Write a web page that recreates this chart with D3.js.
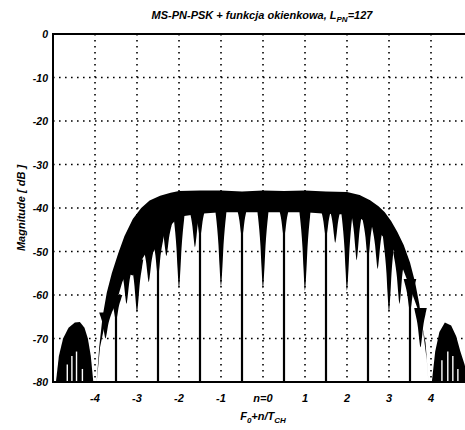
<!DOCTYPE html>
<html>
<head>
    <title>MS-PN-PSK spectrum</title>
    <style>
        body { margin: 0; background: #fff; }
        text { font-family: "Liberation Sans", Arial, sans-serif; font-weight: bold; font-style: italic; fill: #000; }
        .grid line { stroke: #000; stroke-width: 1.6; stroke-dasharray: 1.6,4.4; }
        .frame { stroke: #000; stroke-width: 2; fill: none; }
    </style>
</head>
<body>
    <div id="chart"></div>
    <script src="https://d3js.org/d3.v7.min.js"></script>
    <script>
        // Tick values and labels
        const xTicks = [-4, -3, -2, -1, 0, 1, 2, 3, 4];
        const xTickLabels = ["-4", "-3", "-2", "-1", "n=0", "1", "2", "3", "4"];
        const yTicks = [0, -10, -20, -30, -40, -50, -60, -70, -80];

        // Upper envelope of the spectrum (f in units of 1/T_CH, magnitude in dB)
        const leftLobeF  = [-4.93, -4.86, -4.76, -4.63, -4.48, -4.36, -4.25, -4.17, -4.10, -4.04];
        const leftLobeDb = [-80, -74, -70, -67.5, -66.3, -66.2, -67.5, -70, -74, -80];

        const mainF  = [-3.96, -3.9, -3.82, -3.72, -3.6, -3.45, -3.3, -3.1, -2.9, -2.7, -2.45, -2.2, -2.0, -1.5, -1.0, -0.5, 0, 0.5, 1.0, 1.5, 2.0, 2.3, 2.55, 2.75, 2.9, 3.05, 3.2, 3.35, 3.5, 3.62, 3.72, 3.82, 3.9, 3.94];
        const mainDb = [-80, -72, -65, -59.5, -55, -50.5, -46.5, -42.5, -40, -38.3, -37.2, -36.5, -36.1, -36, -36, -36.2, -36, -36.1, -36, -36.2, -36.3, -37, -38.2, -39.6, -41, -43, -45.5, -48.5, -52.5, -57, -62, -69, -75, -80];

        // Lower edge of the solid black band (tops of the white arches)
        const floorF  = [-3.96, -3.88, -3.75, -3.6, -3.5, -3.35, -3.25, -3.1, -2.95, -2.8, -2.6, -2.45, -2.3, -2.15, -2.0, -1.5, -1.0, -0.5, 0, 0.5, 1.0, 1.5, 2.0, 2.25, 2.5, 2.75, 3.0, 3.25, 3.45, 3.6, 3.75, 3.87, 3.94];
        const floorDb = [-80, -72, -66, -64, -62, -57, -55, -55.5, -53, -50.5, -50, -47, -45, -43.5, -42, -41.3, -41, -41, -41, -41, -41, -41.3, -41.5, -42, -43.5, -45.5, -48, -52, -57, -61, -65, -71, -80];

        // Notches hanging below the band: position and depth
        const notchF  = [-3.75, -3.5, -3.25, -3.0, -2.72, -2.5, -2.3, -2.0, -1.62, -1.5, -1.0, -0.5, 0, 0.5, 1.0, 1.5, 1.72, 2.0, 2.23, 2.5, 2.73, 3.0, 3.25, 3.5, 3.75];
        const notchDb = [-70, -66, -62, -64, -57, -56, -51, -58.5, -49, -47, -58, -47, -58.5, -47, -59, -47, -48, -59, -52, -52, -54, -64, -62, -64, -72];

        // Full nulls that run down to the floor of the plot
        const nullF = [-3.5, -2.5, -1.5, -0.5, 0.5, 1.5, 2.5, 3.5];

        // Right side lobe
        const rightLobeF  = [4.02, 4.1, 4.2, 4.33, 4.48, 4.6, 4.7, 4.8, 4.9];
        const rightLobeDb = [-80, -73, -68.5, -66.3, -67, -69.5, -73, -76, -80];

        // White slits at the bottom of the side lobes: position and top
        const slitF  = [-4.66, -4.55, -4.44, -4.3, 4.26, 4.4, 4.52, 4.64];
        const slitDb = [-76, -74, -73, -77, -75, -73, -74, -77];

        const W = 465, H = 430;
        const svg = d3.select("#chart").append("svg")
            .attr("width", W).attr("height", H);

        const x = d3.scaleLinear().domain([-5, 5]).range([53, 473]);
        const y = d3.scaleLinear().domain([-80, 0]).range([382, 34]);

        // grid
        const grid = svg.append("g").attr("class", "grid");
        grid.selectAll(".gx").data(xTicks).enter().append("line")
            .attr("x1", d => x(d)).attr("x2", d => x(d))
            .attr("y1", y(0)).attr("y2", y(-80));
        grid.selectAll(".gy").data(yTicks.slice(1, -1)).enter().append("line")
            .attr("x1", x(-5)).attr("x2", W)
            .attr("y1", d => y(d)).attr("y2", d => y(d));

        // helper: linear lookup of the band floor
        const floorPts = floorF.map((f, i) => [f, floorDb[i]]);
        function floorAt(f) {
            const i = d3.bisector(d => d[0]).left(floorPts, f);
            if (i <= 0) return floorPts[0][1];
            if (i >= floorPts.length) return floorPts[floorPts.length - 1][1];
            const a = floorPts[i - 1], b = floorPts[i];
            return a[1] + (b[1] - a[1]) * (f - a[0]) / (b[0] - a[0]);
        }

        const spec = svg.append("g");

        // side lobes, filled to the bottom
        const lobeArea = d3.area().x(d => x(d[0])).y0(y(-80)).y1(d => y(d[1]));
        spec.append("path")
            .datum(leftLobeF.map((f, i) => [f, leftLobeDb[i]]))
            .attr("d", lobeArea).attr("fill", "#000");
        spec.append("path")
            .datum(rightLobeF.map((f, i) => [f, rightLobeDb[i]]))
            .attr("d", lobeArea).attr("fill", "#000");

        spec.selectAll(".slit").data(slitF).enter().append("line")
            .attr("x1", d => x(d)).attr("x2", d => x(d))
            .attr("y1", (d, i) => y(slitDb[i])).attr("y2", y(-80) - 1)
            .attr("stroke", "#fff").attr("stroke-width", 1.4);

        // main lobe band: upper envelope down to the floor
        const mainPts = mainF.map((f, i) => [f, mainDb[i]]);
        const band = mainPts.concat(floorPts.slice().reverse());
        spec.append("path")
            .attr("d", d3.line().x(d => x(d[0])).y(d => y(d[1]))(band) + "Z")
            .attr("fill", "#000");

        // notches as tapering fingers with broad shoulders
        const notchShape = (f, depth) => {
            const top = floorAt(f) + 2;
            const dd = depth - top;
            const pts = [
                [f - 0.15, top], [f - 0.12, top + dd * 0.15], [f - 0.09, top + dd * 0.3],
                [f - 0.06, top + dd * 0.5], [f - 0.035, top + dd * 0.75], [f, depth],
                [f + 0.035, top + dd * 0.75], [f + 0.06, top + dd * 0.5],
                [f + 0.09, top + dd * 0.3], [f + 0.12, top + dd * 0.15], [f + 0.15, top]
            ];
            return d3.line().x(d => x(d[0])).y(d => y(d[1])).curve(d3.curveCatmullRom)(pts);
        };
        spec.selectAll(".notch").data(notchF).enter().append("path")
            .attr("d", (d, i) => notchShape(d, notchDb[i]))
            .attr("fill", "#000");

        spec.selectAll(".null").data(nullF).enter().append("line")
            .attr("x1", d => x(d)).attr("x2", d => x(d))
            .attr("y1", d => y(floorAt(d))).attr("y2", y(-80))
            .attr("stroke", "#000").attr("stroke-width", 2.2);

        // frame
        svg.append("path").attr("class", "frame")
            .attr("d", `M${W},${y(0)}H${x(-5)}V${y(-80)}H${W}`);

        // y tick labels
        svg.selectAll(".ylab").data(yTicks).enter().append("text")
            .attr("x", 48).attr("y", d => y(d) + 4)
            .attr("text-anchor", "end").attr("font-size", 10.5)
            .text(d => d);

        // x tick labels
        svg.selectAll(".xlab").data(xTicks).enter().append("text")
            .attr("x", d => x(d)).attr("y", 402)
            .attr("text-anchor", "middle").attr("font-size", 11)
            .text((d, i) => xTickLabels[i]);

        // title
        const title = svg.append("text").attr("x", 262).attr("y", 19)
            .attr("text-anchor", "middle").attr("font-size", 11);
        title.append("tspan").text("MS-PN-PSK + funkcja okienkowa,  L");
        title.append("tspan").attr("font-size", 8).attr("dy", 3).text("PN");
        title.append("tspan").attr("dy", -3).text("=127");

        // x label
        const xl = svg.append("text").attr("x", 263).attr("y", 420)
            .attr("text-anchor", "middle").attr("font-size", 11);
        xl.append("tspan").text("F");
        xl.append("tspan").attr("font-size", 8).attr("dy", 3).text("0");
        xl.append("tspan").attr("dy", -3).text("+n/T");
        xl.append("tspan").attr("font-size", 8).attr("dy", 3).text("CH");

        // y label
        svg.append("text")
            .attr("transform", "translate(25,208) rotate(-90)")
            .attr("text-anchor", "middle").attr("font-size", 11)
            .text("Magnitude [ dB ]");
    </script>
</body>
</html>
